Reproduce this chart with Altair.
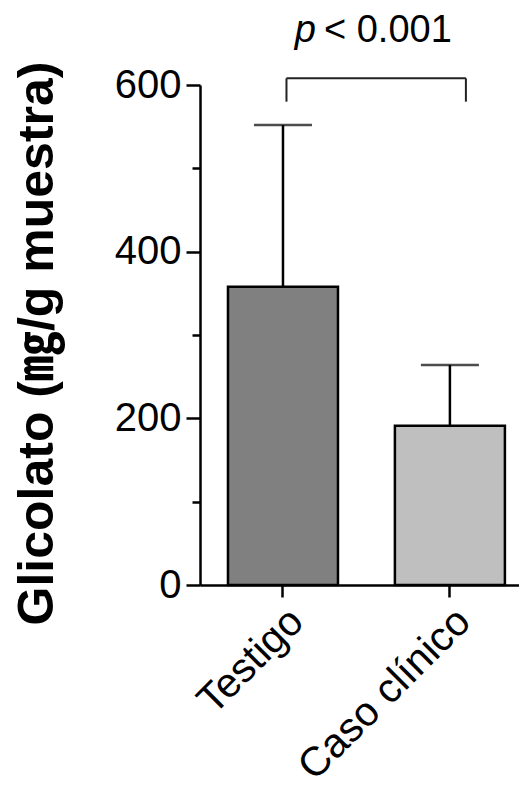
import altair as alt
import pandas as pd

# Data
groups = ["Testigo", "Caso clínico"]
means = [358, 191]
upper = [552, 264]
colors = ["#808080", "#BFBFBF"]

y_ticks = [0, 100, 200, 300, 400, 500, 600]
bracket_y = 608
bracket_leg = 580
p_y = 652

FONT = "Liberation Sans, Arial, Noto Sans CJK JP, sans-serif"

df = pd.DataFrame({"grupo": groups, "media": means, "sup": upper, "color": colors})
br = pd.DataFrame({"a": [groups[0]], "b": [groups[1]], "y": [bracket_y], "y0": [bracket_leg], "py": [p_y]})

xscale = alt.Scale(domain=groups, paddingInner=0.341, paddingOuter=0.126, align=0.665)
yscale = alt.Scale(domain=[0, 600], nice=False, zero=True)

x_enc = alt.X("grupo:N", scale=xscale, sort=groups,
              axis=alt.Axis(title=None, labelAngle=-45, labelAlign="right", labelBaseline="top",
                            labelFontSize=41, labelFont=FONT, labelColor="black", labelPadding=4,
                            labelLimit=0,
                            tickSize=12, tickWidth=2.5, tickColor="black",
                            domainWidth=2.5, domainColor="black", grid=False))

y_axis = alt.Axis(values=y_ticks,
                  labelExpr="datum.value % 200 === 0 ? datum.label : ''",
                  tickSize={"condition": {"test": "datum.value % 200 === 0", "value": 14}, "value": 8},
                  tickWidth=2.5, tickColor="black", domainWidth=2.5, domainColor="black",
                  labelFontSize=40, labelFont=FONT, labelColor="black", labelPadding=5,
                  grid=False,
                  title="Glicolato (㎎/g muestra)", titleFont=FONT, titleFontSize=50,
                  titleFontWeight="bold", titleColor="black", titleAngle=-90,
                  titleX=-148, titleY=258, titleAlign="center", titleBaseline="alphabetic")

bars = alt.Chart(df).mark_bar(stroke="black", strokeWidth=2.5).encode(
    x=x_enc,
    y=alt.Y("media:Q", scale=yscale, axis=y_axis),
    color=alt.Color("color:N", scale=None),
)

err = alt.Chart(df).mark_rule(color="black", strokeWidth=2.5).encode(
    x=alt.X("grupo:N", scale=xscale, sort=groups),
    y=alt.Y("media:Q", scale=yscale),
    y2="sup:Q",
)

caps = alt.Chart(df).mark_tick(color="black", size=58, thickness=2.5, orient="horizontal").encode(
    x=alt.X("grupo:N", scale=xscale, sort=groups),
    y=alt.Y("sup:Q", scale=yscale),
)

top = alt.Chart(br).mark_rule(color="#222", strokeWidth=2, xOffset=3.5, x2Offset=16).encode(
    x=alt.X("a:N", scale=xscale),
    x2="b:N",
    y=alt.Y("y:Q", scale=yscale),
)
leg_l = alt.Chart(br).mark_rule(color="#222", strokeWidth=2, xOffset=3.5).encode(
    x=alt.X("a:N", scale=xscale),
    y=alt.Y("y0:Q", scale=yscale),
    y2="y:Q",
)
leg_r = alt.Chart(br).mark_rule(color="#222", strokeWidth=2, xOffset=16).encode(
    x=alt.X("b:N", scale=xscale),
    y=alt.Y("y0:Q", scale=yscale),
    y2="y:Q",
)

p_txt = alt.Chart(br).mark_text(text="p", font=FONT, fontSize=38, fontStyle="italic",
                                 align="right", baseline="alphabetic", xOffset=33, color="black").encode(
    x=alt.X("a:N", scale=xscale),
    y=alt.Y("py:Q", scale=yscale),
)
v_txt = alt.Chart(br).mark_text(text="< 0.001", font=FONT, fontSize=38,
                                 align="left", baseline="alphabetic", xOffset=41, color="black").encode(
    x=alt.X("a:N", scale=xscale),
    y=alt.Y("py:Q", scale=yscale),
)

chart = alt.layer(bars, err, caps, top, leg_l, leg_r, p_txt, v_txt).properties(
    width=319, height=500,
    autosize=alt.AutoSizeParams(type="none"),
    padding={"left": 192, "top": 77, "right": 0, "bottom": 203},
).configure_view(stroke=None)

chart.save("out.html", embed_options={"renderer": "svg", "actions": False})
